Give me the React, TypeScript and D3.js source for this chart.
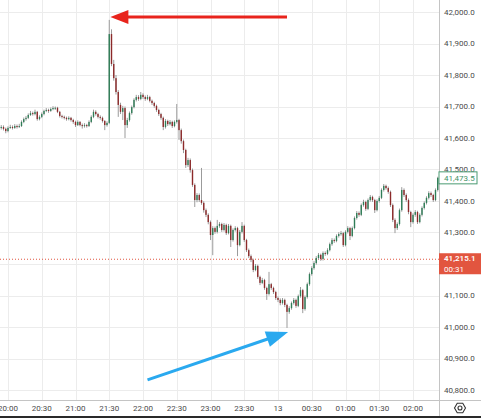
import React from "react";
import * as d3 from "d3";

const W = 481;
const H = 418;

// 2-minute bars starting 19:52 on the 12th
const barStart = new Date(2024, 0, 12, 19, 52);
const barMinutes = 2;
const firstOpen = 41628;

const closes = [
  41632, 41635, 41629, 41622, 41632, 41635, 41632, 41638, 41635, 41638,
  41651, 41660, 41664, 41673, 41679, 41676, 41683, 41660, 41667, 41676,
  41686, 41689, 41686, 41692, 41695, 41696, 41683, 41670, 41667, 41664,
  41660, 41664, 41657, 41651, 41641, 41651, 41641, 41638, 41641, 41638,
  41651, 41667, 41683, 41676, 41667, 41664, 41654, 41641, 41648, 41930,
  41835, 41790, 41746, 41705, 41683, 41695, 41641, 41657, 41679, 41698,
  41721, 41730, 41724, 41737, 41730, 41724, 41730, 41718, 41711, 41702,
  41689, 41676, 41664, 41635, 41654, 41644, 41651, 41638, 41651, 41657,
  41625, 41590, 41562, 41514, 41530, 41498, 41451, 41403, 41419, 41403,
  41394, 41371, 41356, 41333, 41292, 41314, 41302, 41321, 41327, 41308,
  41324, 41298, 41321, 41276, 41308, 41314, 41260, 41302, 41321, 41276,
  41244, 41225, 41213, 41181, 41194, 41159, 41140, 41149, 41124, 41105,
  41136, 41124, 41111, 41092, 41086, 41076, 41086, 41070, 41048, 41060,
  41076, 41086, 41067, 41098, 41117, 41057, 41095, 41136, 41168, 41187,
  41203, 41219, 41229, 41216, 41235, 41232, 41244, 41263, 41276, 41273,
  41289, 41295, 41298, 41260, 41302, 41314, 41289, 41314, 41346, 41362,
  41356, 41387, 41397, 41375, 41403, 41413, 41403, 41371, 41400, 41410,
  41435, 41448, 41441, 41429, 41387, 41340, 41314, 41327, 41371, 41435,
  41419, 41403, 41365, 41333, 41356, 41365, 41333, 41356, 41378, 41394,
  41410, 41425, 41419, 41403, 41435, 41473.5,
];

const highs = [
  41638, 41641, 41640, 41633, 41637, 41642, 41640, 41644, 41643, 41645,
  41656, 41665, 41670, 41678, 41686, 41684, 41690, 41686, 41672, 41681,
  41690, 41695, 41693, 41697, 41701, 41700, 41699, 41686, 41674, 41671,
  41668, 41669, 41667, 41661, 41655, 41656, 41654, 41646, 41647, 41645,
  41656, 41672, 41690, 41688, 41680, 41672, 41668, 41657, 41653, 41975,
  41945, 41848, 41800, 41752, 41712, 41702, 41700, 41664, 41684, 41703,
  41726, 41737, 41736, 41746, 41742, 41735, 41737, 41734, 41722, 41715,
  41706, 41693, 41680, 41668, 41660, 41658, 41657, 41655, 41656, 41708,
  41661, 41630, 41595, 41566, 41537, 41535, 41503, 41456, 41425, 41424,
  41505, 41399, 41376, 41361, 41338, 41320, 41319, 41340, 41333, 41331,
  41330, 41328, 41327, 41325, 41313, 41320, 41318, 41308, 41333, 41325,
  41280, 41249, 41230, 41217, 41200, 41198, 41163, 41156, 41153, 41128,
  41175, 41140, 41128, 41115, 41097, 41091, 41092, 41090, 41074, 41066,
  41081, 41092, 41090, 41103, 41127, 41121, 41100, 41141, 41173, 41193,
  41209, 41225, 41235, 41233, 41240, 41240, 41250, 41268, 41282, 41281,
  41294, 41301, 41305, 41302, 41307, 41320, 41318, 41319, 41351, 41368,
  41367, 41392, 41404, 41401, 41408, 41419, 41417, 41407, 41405, 41416,
  41440, 41454, 41452, 41446, 41433, 41392, 41345, 41332, 41376, 41444,
  41440, 41424, 41408, 41369, 41361, 41371, 41369, 41361, 41383, 41399,
  41415, 41431, 41430, 41423, 41440, 41477,
];

const lows = [
  41622, 41627, 41624, 41615, 41618, 41629, 41627, 41629, 41630, 41632,
  41635, 41647, 41655, 41660, 41670, 41671, 41672, 41655, 41656, 41663,
  41672, 41682, 41680, 41683, 41688, 41689, 41679, 41665, 41662, 41659,
  41655, 41656, 41652, 41645, 41635, 41638, 41637, 41630, 41633, 41633,
  41635, 41647, 41663, 41671, 41662, 41658, 41649, 41625, 41636, 41644,
  41828, 41782, 41738, 41667, 41676, 41657, 41600, 41632, 41652, 41674,
  41694, 41716, 41718, 41720, 41724, 41718, 41720, 41713, 41705, 41696,
  41683, 41670, 41658, 41625, 41630, 41638, 41640, 41632, 41634, 41646,
  41594, 41582, 41552, 41505, 41508, 41490, 41445, 41381, 41396, 41397,
  41388, 41363, 41349, 41326, 41276, 41228, 41296, 41297, 41315, 41302,
  41303, 41292, 41294, 41254, 41271, 41303, 41225, 41256, 41297, 41270,
  41238, 41219, 41206, 41174, 41177, 41153, 41133, 41136, 41118, 41086,
  41100, 41118, 41105, 41086, 41079, 41069, 41071, 41063, 40997, 41042,
  41055, 41071, 41061, 41063, 41093, 41044, 41052, 41090, 41131, 41163,
  41182, 41198, 41214, 41210, 41211, 41226, 41228, 41240, 41258, 41267,
  41269, 41284, 41290, 41254, 41256, 41297, 41276, 41285, 41310, 41341,
  41350, 41352, 41382, 41369, 41371, 41398, 41397, 41362, 41367, 41395,
  41406, 41430, 41436, 41423, 41381, 41333, 41298, 41308, 41322, 41366,
  41413, 41397, 41358, 41317, 41328, 41350, 41327, 41329, 41351, 41373,
  41389, 41405, 41413, 41397, 41399, 41430,
];

const priceTicks = [
  40800, 40900, 41000, 41100, 41200, 41300, 41400, 41500, 41600, 41700,
  41800, 41900, 42000,
];

const timeTickLabels = [
  "20:00", "20:30", "21:00", "21:30", "22:00", "22:30", "23:00", "23:30",
  "13", "00:30", "01:00", "01:30", "02:00",
];
const timeTickStart = new Date(2024, 0, 12, 20, 0);
const timeTickStepMinutes = 30;

const lastPrice = 41473.5;
const markedPrice = 41215.1;
const countdown = "00:31";

// annotation arrows in data space: [minutes after 20:00, price]
const redArrowFrom: [number, number] = [248, 41984];
const redArrowTo: [number, number] = [91, 41984];
const blueArrowFrom: [number, number] = [124, 40832];
const blueArrowTo: [number, number] = [249, 40984];

const addMinutes = (d: Date, m: number) => new Date(d.getTime() + m * 60000);

export default function App() {
  const plotRight = 439;
  const axisBottom = 400;

  const x = d3
    .scaleTime()
    .domain([timeTickStart, addMinutes(timeTickStart, 360)])
    .range([8, 413]);
  const y = d3.scaleLinear().domain([40800, 42000]).range([390, 12]);
  const fmt = d3.format(",.1f");

  const font = "Roboto, 'Liberation Sans', sans-serif";
  const textColor = "#4a4a4a";
  const gridColor = "#ececec";
  const upColor = "#2f7d57";
  const downColor = "#8c2a2a";
  const wickColor = "#9b9b9b";

  const candles = closes.map((c, i) => {
    const o = i === 0 ? firstOpen : closes[i - 1];
    return { t: addMinutes(barStart, i * barMinutes), o, h: highs[i], l: lows[i], c };
  });

  const tickTimes = timeTickLabels.map((_, i) =>
    addMinutes(timeTickStart, i * timeTickStepMinutes)
  );

  const arrow = (
    from: [number, number],
    to: [number, number],
    color: string,
    width: number,
    headLen: number,
    headHalf: number
  ) => {
    const x1 = x(addMinutes(timeTickStart, from[0]));
    const y1 = y(from[1]);
    const x2 = x(addMinutes(timeTickStart, to[0]));
    const y2 = y(to[1]);
    const ang = Math.atan2(y2 - y1, x2 - x1);
    const bx = x2 - headLen * Math.cos(ang);
    const by = y2 - headLen * Math.sin(ang);
    const px = -Math.sin(ang);
    const py = Math.cos(ang);
    const head = `M${x2},${y2}L${bx + px * headHalf},${by + py * headHalf}L${bx - px * headHalf},${by - py * headHalf}Z`;
    return (
      <g>
        <line x1={x1} y1={y1} x2={bx + Math.cos(ang) * 2} y2={by + Math.sin(ang) * 2} stroke={color} strokeWidth={width} />
        <path d={head} fill={color} />
      </g>
    );
  };

  const hex = d3.range(6).map((k) => {
    const a = (Math.PI / 3) * k;
    return [460 + 5.5 * Math.cos(a), 408 + 5.5 * Math.sin(a)];
  });

  return (
    <svg
      width={W}
      height={H}
      style={{ position: "absolute", left: 0, top: 0, background: "#fff" }}
      fontFamily={font}
    >
      <rect width={W} height={H} fill="#fff" />
      <defs>
        <clipPath id="plot">
          <rect x={0} y={0} width={plotRight} height={axisBottom} />
        </clipPath>
      </defs>

      {/* grid */}
      <g>
        {priceTicks.map((p) => (
          <line key={p} x1={0} x2={plotRight} y1={Math.round(y(p)) + 0.5} y2={Math.round(y(p)) + 0.5} stroke={gridColor} />
        ))}
        {tickTimes.map((t, i) => (
          <line key={i} x1={Math.round(x(t)) + 0.5} x2={Math.round(x(t)) + 0.5} y1={0} y2={axisBottom} stroke={gridColor} />
        ))}
      </g>

      {/* marked price dotted line */}
      <line x1={0} x2={plotRight} y1={y(markedPrice)} y2={y(markedPrice)} stroke="#e0533f" strokeWidth={1} strokeDasharray="1 2" />

      {/* candles */}
      <g clipPath="url(#plot)">
        {candles.map((d, i) => {
          const cx = x(d.t);
          const top = y(Math.max(d.o, d.c));
          const bot = y(Math.min(d.o, d.c));
          const up = d.c >= d.o;
          return (
            <g key={i}>
              <line x1={cx} x2={cx} y1={y(d.h)} y2={y(d.l)} stroke={wickColor} strokeWidth={1} />
              <rect x={cx - 0.7} width={1.4} y={top} height={Math.max(1, bot - top)} fill={up ? upColor : downColor} />
            </g>
          );
        })}
      </g>

      {/* arrows */}
      {arrow(redArrowFrom, redArrowTo, "#e8241c", 3, 18, 7)}
      {arrow(blueArrowFrom, blueArrowTo, "#2aa9ef", 3, 22, 8)}

      {/* price axis */}
      <line x1={plotRight + 0.5} x2={plotRight + 0.5} y1={0} y2={H} stroke="#c4c4c4" />
      <g fontSize={8} fill={textColor}>
        {priceTicks.map((p) => (
          <text key={p} x={plotRight + 5} y={y(p)} dy="0.35em">
            {fmt(p)}
          </text>
        ))}
      </g>

      {/* last price label */}
      <rect x={plotRight} y={y(lastPrice) - 6} width={38} height={12} fill="#fff" stroke="#4a9a72" strokeWidth={1} />
      <text x={plotRight + 5} y={y(lastPrice)} dy="0.35em" fontSize={8} fill="#3f9268">
        {fmt(lastPrice)}
      </text>

      {/* marked price label */}
      <rect x={plotRight} y={y(markedPrice) - 6} width={W - plotRight} height={21} fill="#e2553f" />
      <text x={plotRight + 5} y={y(markedPrice) - 0.8} dy="0.35em" fontSize={8} fill="#fff" fontWeight={600}>
        {fmt(markedPrice)}
      </text>
      <text x={plotRight + 5} y={y(markedPrice) + 9.6} dy="0.35em" fontSize={8} fill="#fff">
        {countdown}
      </text>

      {/* time axis */}
      <line x1={0} x2={W} y1={axisBottom + 0.5} y2={axisBottom + 0.5} stroke="#c4c4c4" />
      <g fontSize={8} fill={textColor} textAnchor="middle">
        {tickTimes.map((t, i) => (
          <text key={i} x={x(t)} y={408} dy="0.35em">
            {timeTickLabels[i]}
          </text>
        ))}
      </g>

      {/* settings icon */}
      <polygon points={hex.map((p) => p.join(",")).join(" ")} fill="none" stroke="#333" strokeWidth={1.1} />
      <circle cx={460} cy={408} r={2} fill="none" stroke="#333" strokeWidth={1.1} />

      <rect x={0} y={416} width={W} height={2} fill="#2a2a2a" />
    </svg>
  );
}
